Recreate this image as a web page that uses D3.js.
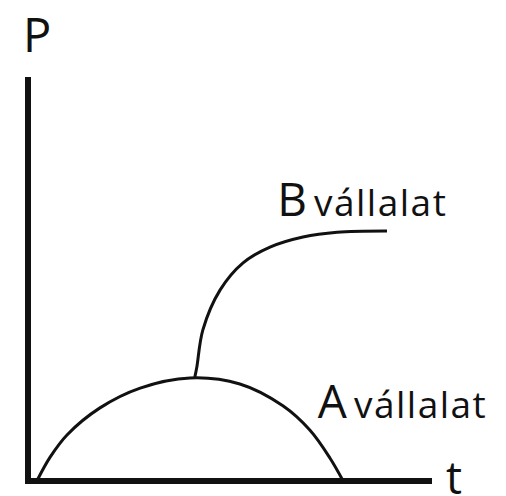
<!DOCTYPE html>
<html>
<head>
<meta charset="utf-8">
<script src="https://cdn.jsdelivr.net/npm/d3@7"></script>
<style>
  html, body { margin: 0; padding: 0; background: #fff; }
  svg { display: block; }
  text { font-family: "Open Sans", "Noto Sans", sans-serif; fill: #111; }
</style>
</head>
<body>
<svg id="chart" width="506" height="496"></svg>
<script>
// Curve A (t vs P)
const curveA_t = [2.2, 5.5, 9.7, 17.9, 27.9, 40.3, 52.7, 63.4, 70.1, 75.1, 78.4];
const curveA_p = [0, 5.9, 11.4, 18.1, 23.0, 25.5, 24.0, 18.6, 12.6, 5.7, 0];

// Curve B branches off A near its peak
const curveB_t = [41.5, 42.0, 43.5, 47.8, 53.5, 60.2, 68.4, 76.9, 89.3];
const curveB_p = [25.7, 28.2, 37.4, 47.3, 54.0, 57.9, 60.4, 61.6, 61.9];

// Labels
const axisLabels = ["P", "t"];
const seriesNames = ["B", "A"];
const seriesWord = "vállalat";

const svg = d3.select("#chart");

// Scales
const x = d3.scaleLinear().domain([0, 100]).range([28, 430]);
const y = d3.scaleLinear().domain([0, 100]).range([481, 77]);

const line = d3.line()
    .x(d => x(d[0]))
    .y(d => y(d[1]))
    .curve(d3.curveCatmullRom.alpha(0.5));

// Axes
svg.append("line")
    .attr("x1", x(0)).attr("y1", y(100))
    .attr("x2", x(0)).attr("y2", y(0) + 3)
    .attr("stroke", "#111").attr("stroke-width", 6);

svg.append("line")
    .attr("x1", x(0) - 3).attr("y1", y(0))
    .attr("x2", x(100) + 2).attr("y2", y(0))
    .attr("stroke", "#111").attr("stroke-width", 6);

// Curves
const dataA = curveA_t.map((t, i) => [t, curveA_p[i]]);
const dataB = curveB_t.map((t, i) => [t, curveB_p[i]]);

svg.append("path")
    .datum(dataA)
    .attr("d", line)
    .attr("fill", "none")
    .attr("stroke", "#111")
    .attr("stroke-width", 3);

svg.append("path")
    .datum(dataB)
    .attr("d", line)
    .attr("fill", "none")
    .attr("stroke", "#111")
    .attr("stroke-width", 3);

// Axis titles
svg.append("text")
    .attr("x", x(0) - 5).attr("y", 52)
    .attr("font-size", 47)
    .text(axisLabels[0]);

svg.append("text")
    .attr("x", x(100) + 16).attr("y", 494)
    .attr("font-size", 45)
    .text(axisLabels[1]);

// Series labels
function seriesLabel(name, px, py) {
    const g = svg.append("text").attr("x", px).attr("y", py);
    g.append("tspan").attr("font-size", 46).text(name);
    g.append("tspan").attr("font-size", 37).attr("dx", 7)
        .attr("letter-spacing", 1.5).text(seriesWord);
}

seriesLabel(seriesNames[0], x(62.0), y(65.6));
seriesLabel(seriesNames[1], x(72.1), y(15.6));
</script>
</body>
</html>
